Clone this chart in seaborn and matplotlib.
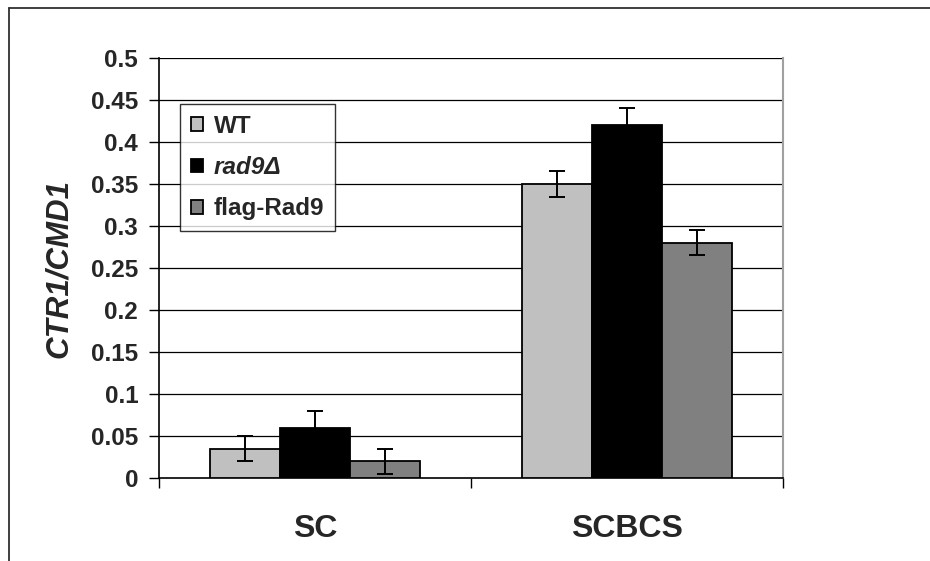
import matplotlib
matplotlib.use("Agg")
import matplotlib.pyplot as plt
from matplotlib.lines import Line2D
import seaborn as sns
import pandas as pd
import numpy as np

# ---- data ----
conditions = ["SC", "SCBCS"]
strains = ["WT", "rad9Δ", "flag-Rad9"]
wt_vals = [0.035, 0.35]
rad9_vals = [0.06, 0.42]
flag_vals = [0.02, 0.28]
wt_err = [0.015, 0.015]
rad9_err = [0.02, 0.02]
flag_err = [0.015, 0.015]
yticks = [0, 0.05, 0.1, 0.15, 0.2, 0.25, 0.3, 0.35, 0.4, 0.45, 0.5]
ytick_labels = ["0", "0.05", "0.1", "0.15", "0.2", "0.25", "0.3", "0.35", "0.4", "0.45", "0.5"]
colors = ["#c0c0c0", "#000000", "#808080"]

values = [wt_vals, rad9_vals, flag_vals]
errors = [wt_err, rad9_err, flag_err]
df = pd.DataFrame({
    "condition": [c for s in strains for c in conditions],
    "strain": [s for s in strains for c in conditions],
    "value": [v for vals in values for v in vals],
})

sns.set_theme(style="white")
plt.rcParams["font.family"] = ["Liberation Sans", "DejaVu Sans"]
plt.rcParams["font.weight"] = "bold"

fig = plt.figure(figsize=(9.3, 5.61), dpi=100)
ax = fig.add_axes([159/930, 1-478/561, 624/930, 420/561])

sns.barplot(data=df, x="condition", y="value", hue="strain", order=conditions,
            hue_order=strains, palette=colors, width=0.67, edgecolor="black",
            linewidth=1.3, errorbar=None, ax=ax, zorder=3)

for cont, errs in zip(ax.containers, errors):
    xs = [p.get_x() + p.get_width()/2 for p in cont.patches]
    hs = [p.get_height() for p in cont.patches]
    ax.errorbar(xs, hs, yerr=errs, fmt="none", ecolor="black", elinewidth=1.4,
                capsize=5.5, capthick=1.4, zorder=4)

ax.set_xlim(-0.5, 1.5)
ax.set_ylim(0, 0.5)
ax.set_yticks(yticks)
ax.set_yticklabels(ytick_labels, fontsize=17.5, fontweight="bold")
ax.set_xticks([0, 1])
ax.set_xticklabels(conditions, fontsize=23, fontweight="bold")
ax.set_xticks([-0.5, 0.5, 1.5], minor=True)
ax.tick_params(axis="x", which="major", length=0, pad=26)
ax.tick_params(axis="x", which="minor", length=7, width=1, color="black", direction="out", bottom=True)
ax.tick_params(axis="y", length=7, width=1, color="black", direction="out", left=True, pad=8)

for y in yticks[1:]:
    ax.axhline(y, color="black", lw=0.9, zorder=1)

ax.set_xlabel("")
ax.set_ylabel("CTR1/CMD1", fontsize=22.5, fontweight="bold", fontstyle="italic")
ax.yaxis.set_label_coords(-0.137, 0.5)

for side in ["left", "bottom"]:
    ax.spines[side].set_color("black")
    ax.spines[side].set_linewidth(1.2)
ax.spines["top"].set_visible(False)
ax.spines["right"].set_color("#a0a0a0")
ax.spines["right"].set_linewidth(1.5)

leg = ax.legend(loc="upper left", bbox_to_anchor=((180-159)/624, (478-104)/420),
                borderaxespad=0, frameon=True, fancybox=False, fontsize=17.5,
                labelspacing=0.75, handlelength=0.5, handleheight=0.5,
                handletextpad=0.45, borderpad=0.45, title=None)
leg.get_frame().set_edgecolor("black")
leg.get_frame().set_linewidth(1.0)
for t in leg.get_texts():
    t.set_fontweight("bold")
leg.get_texts()[1].set_fontstyle("italic")
leg.set_zorder(10)

# outer chart frame (partially visible)
fig.add_artist(Line2D([9/930, 1.0], [1-8/561, 1-8/561], transform=fig.transFigure, color="#303030", lw=1.3))
fig.add_artist(Line2D([9/930, 9/930], [0.0, 1-8/561], transform=fig.transFigure, color="#303030", lw=1.3))

fig.savefig("out.png", dpi=100)
